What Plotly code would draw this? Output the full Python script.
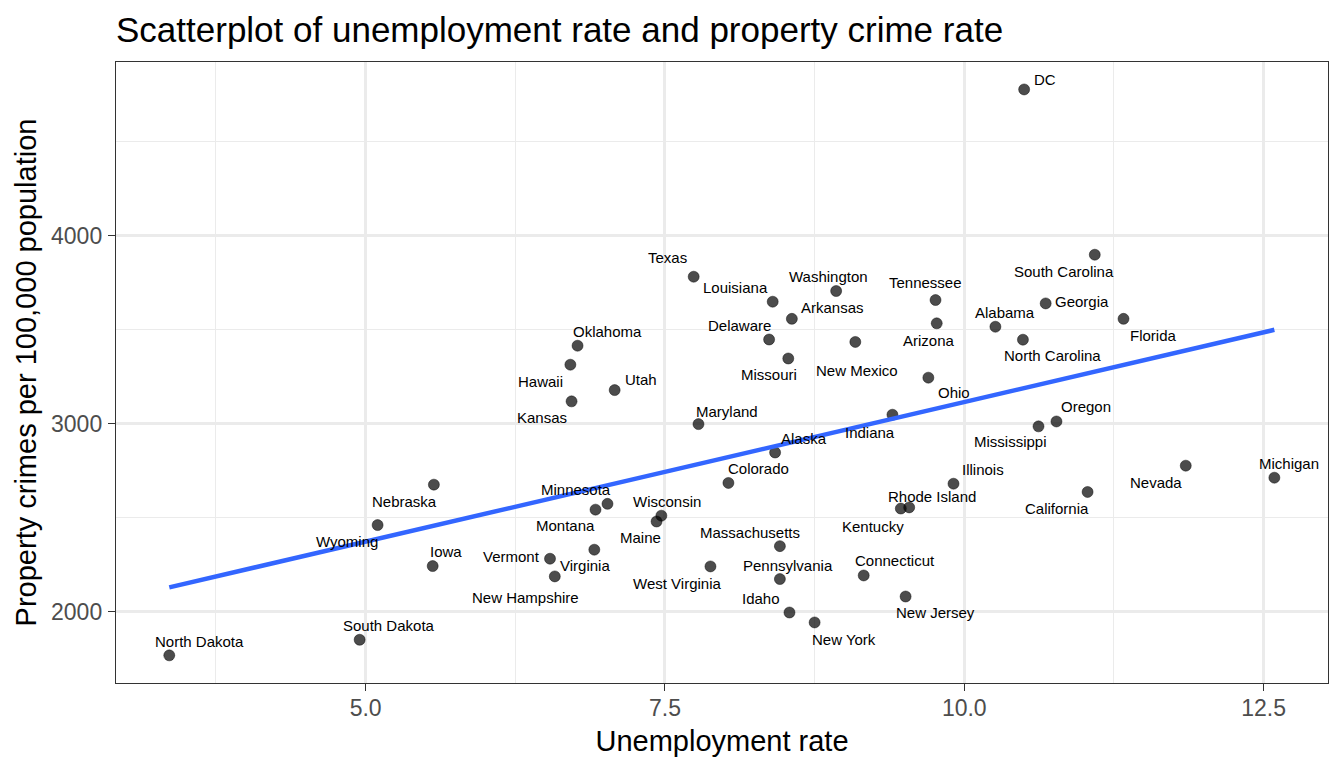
import numpy as np
import plotly.graph_objects as go

# ---- data ----
states = ["North Dakota", "South Dakota", "Wyoming", "Nebraska", "Texas", "Oklahoma",
          "Hawaii", "Kansas", "Utah", "Maryland", "Louisiana", "Delaware", "Washington",
          "Arkansas", "Missouri", "New Mexico", "Tennessee", "Arizona", "Alabama",
          "North Carolina", "Ohio", "Indiana", "Alaska", "Mississippi", "South Carolina",
          "Georgia", "Florida", "Oregon", "California", "Nevada", "Michigan", "DC",
          "Iowa", "Minnesota", "Montana", "Wisconsin", "Maine", "Vermont", "Virginia",
          "New Hampshire", "West Virginia", "Colorado", "Illinois", "Rhode Island",
          "Kentucky", "Massachusetts", "Pennsylvania", "Connecticut", "Idaho",
          "New York", "New Jersey"]

unemployment = [3.36, 4.95, 5.10, 5.57, 7.74, 6.77,
                6.71, 6.72, 7.08, 7.78, 8.40, 8.37, 8.93,
                8.56, 8.53, 9.09, 9.76, 9.77, 10.26,
                10.49, 9.70, 9.40, 8.42, 10.62, 11.09,
                10.68, 11.33, 10.77, 11.03, 11.85, 12.59, 10.50,
                5.56, 7.02, 6.92, 7.47, 7.43, 6.54, 6.91,
                6.58, 7.88, 8.03, 9.91, 9.54,
                9.47, 8.46, 8.46, 9.16, 8.54,
                8.75, 9.51]

property_crime = [1768, 1851, 2461, 2676, 3782, 3415,
                  3314, 3119, 3179, 2998, 3649, 3448, 3706,
                  3558, 3347, 3435, 3658, 3534, 3516,
                  3447, 3245, 3048, 2847, 2986, 3899,
                  3640, 3558, 3012, 2637, 2777, 2713, 4778,
                  2243, 2574, 2543, 2511, 2480, 2282, 2330,
                  2188, 2241, 2685, 2681, 2555,
                  2549, 2349, 2174, 2193, 1996,
                  1943, 2081]

x_ticks = [5.0, 7.5, 10.0, 12.5]
x_tick_labels = ["5.0", "7.5", "10.0", "12.5"]
y_ticks = [2000, 3000, 4000]
y_tick_labels = ["2000", "3000", "4000"]

# label offsets in pixels (dx right, dy down) mimicking the repelled labels
label_offsets = {
    "North Dakota": (30, -14), "South Dakota": (29, -14), "Wyoming": (-31, 16),
    "Nebraska": (-29, 17), "Texas": (-26, -19), "Oklahoma": (30, -14),
    "Hawaii": (-30, 17), "Kansas": (-30, 16), "Utah": (26, -11),
    "Maryland": (29, -13), "Louisiana": (-37, -14), "Delaware": (-30, -14),
    "Washington": (-7.5, -15), "Arkansas": (41, -11), "Missouri": (-19, 16),
    "New Mexico": (2, 29), "Tennessee": (-10, -18), "Arizona": (-8, 17),
    "Alabama": (10, -14), "North Carolina": (30, 16), "Ohio": (26, 15),
    "Indiana": (-22, 18), "Alaska": (28.5, -14), "Mississippi": (-28, 15),
    "South Carolina": (-31, 17), "Georgia": (36, -2), "Florida": (30, 17),
    "Oregon": (30, -15), "California": (-31, 17), "Nevada": (-30, 17),
    "Michigan": (15, -14), "DC": (21, -10), "Iowa": (13, -15),
    "Minnesota": (-31, -14), "Montana": (-30, 16), "Wisconsin": (6, -14),
    "Maine": (-16, 16), "Vermont": (-39, -2), "Virginia": (-9, 16),
    "New Hampshire": (-29, 21), "West Virginia": (-33, 17), "Colorado": (30, -14),
    "Illinois": (30, -14), "Rhode Island": (23, -11), "Kentucky": (-27.5, 18),
    "Massachusetts": (-30, -14), "Pennsylvania": (8, -14), "Connecticut": (31, -15),
    "Idaho": (-28, -14), "New York": (29, 17), "New Jersey": (30, 16),
}

FONT = "Liberation Sans, Arial, Helvetica, sans-serif"

# linear fit (geom_smooth(method = "lm", se = FALSE))
xs = np.array(unemployment)
ys = np.array(property_crime)
slope, intercept = np.polyfit(xs, ys, 1)
fit_x = np.array([xs.min(), xs.max()])
fit_y = intercept + slope * fit_x

fig = go.Figure()
fig.add_trace(go.Scatter(
    x=unemployment, y=property_crime, mode="markers",
    marker=dict(size=11, color="rgba(0,0,0,0.7)",
                line=dict(width=0.6, color="rgba(0,0,0,0.75)")),
    text=states, hoverinfo="text+x+y", showlegend=False))
fig.add_trace(go.Scatter(
    x=fit_x, y=fit_y, mode="lines",
    line=dict(color="#3366FF", width=4.5), hoverinfo="skip", showlegend=False))

for s, xv, yv in zip(states, unemployment, property_crime):
    dx, dy = label_offsets[s]
    fig.add_annotation(x=xv, y=yv, text=s, showarrow=False,
                       xshift=dx, yshift=-dy,
                       font=dict(family=FONT, size=15, color="black"))

axis_common = dict(
    showline=True, mirror=True, linecolor="#333333", linewidth=1.4,
    ticks="outside", ticklen=7, tickwidth=1.4, tickcolor="#333333",
    tickfont=dict(family=FONT, size=23, color="#4D4D4D"),
    showgrid=True, gridcolor="#EBEBEB", gridwidth=2.6, zeroline=False,
)

fig.update_layout(
    width=1344, height=768,
    margin=dict(l=115.5, r=15.7, t=62.3, b=84.7),
    paper_bgcolor="white", plot_bgcolor="white",
    title=dict(text="Scatterplot of unemployment rate and property crime rate",
               font=dict(family=FONT, size=35, color="black"),
               x=0, xref="paper", xanchor="left",
               y=1 - 30 / 768, yref="container", yanchor="middle"),
    xaxis=dict(range=[2.915, 13.038], tickvals=x_ticks, ticktext=x_tick_labels,
               minor=dict(tickvals=[3.75, 6.25, 8.75, 11.25], showgrid=True,
                          gridcolor="#EBEBEB", gridwidth=1.3, ticks=""),
               ticklabelstandoff=-3,
               title=dict(text="Unemployment rate", standoff=10,
                          font=dict(family=FONT, size=29, color="black")),
               **axis_common),
    yaxis=dict(range=[1621, 4924], tickvals=y_ticks, ticktext=y_tick_labels,
               minor=dict(tickvals=[2500, 3500, 4500], showgrid=True,
                          gridcolor="#EBEBEB", gridwidth=1.3, ticks=""),
               ticklabelstandoff=1,
               title=dict(text="Property crimes per 100,000 population", standoff=5,
                          font=dict(family=FONT, size=29, color="black")),
               **axis_common),
)

fig.write_html("out.html",
               config={"displayModeBar": False},
               post_script="document.body.style.margin='0px';"
                           "document.body.style.overflow='hidden';")
